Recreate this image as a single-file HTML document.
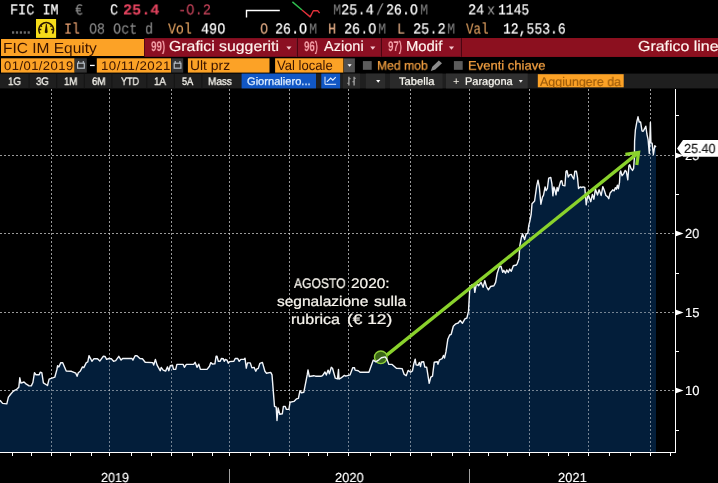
<!DOCTYPE html>
<html><head><meta charset="utf-8"><title>FIC IM Equity</title>
<style>
*{box-sizing:border-box}
html,body{margin:0;padding:0;background:#000}
body{width:718px;height:483px;overflow:hidden;position:relative;font-family:"Liberation Sans",sans-serif}
.a{position:absolute;white-space:nowrap;line-height:1;transform-origin:0 0;will-change:transform;text-rendering:geometricPrecision}
.m{font-family:"Liberation Mono",monospace}
.s{font-family:"Liberation Sans",sans-serif}
.bx{position:absolute}
</style></head>
<body>
<svg width="718" height="483" viewBox="0 0 718 483" style="position:absolute;left:0;top:0">
<defs><clipPath id="cf"><path d="M0.0,400.3 L2.6,403.4 L6.8,403.9 L8.4,397.2 L10.4,394.5 L13.1,391.4 L14.6,390.4 L16.7,389.3 L18.8,387.2 L19.8,377.8 L20.9,383.1 L24.0,382.0 L25.6,383.6 L28.7,385.7 L31.3,385.9 L32.9,382.5 L34.5,372.6 L36.0,374.8 L39.2,374.8 L40.2,372.3 L41.8,372.6 L43.4,382.8 L47.5,385.5 L49.1,379.2 L54.8,377.2 L56.9,369.5 L57.6,365.7 L58.9,366.9 L60.8,362.6 L62.7,362.8 L66.2,371.1 L71.4,371.3 L75.8,373.2 L77.1,376.3 L78.3,372.8 L80.2,371.3 L82.5,366.9 L83.8,367.6 L86.3,362.6 L87.8,361.9 L89.0,355.7 L90.7,358.8 L91.9,361.3 L93.8,358.8 L97.5,358.8 L99.8,361.1 L103.2,356.3 L105.1,356.5 L106.6,359.4 L108.8,358.5 L111.3,358.8 L113.6,361.3 L115.7,360.7 L118.8,356.3 L121.1,360.1 L122.6,358.5 L132.0,358.5 L132.9,360.1 L135.1,355.7 L137.0,355.7 L139.9,358.5 L142.4,358.8 L145.2,362.3 L152.7,362.6 L153.7,365.1 L155.4,359.4 L157.1,365.1 L160.2,370.7 L161.2,367.4 L163.2,370.1 L165.6,371.1 L167.5,366.9 L168.8,370.7 L170.3,365.7 L172.5,365.1 L173.5,369.4 L175.7,369.4 L176.9,364.4 L183.2,364.4 L184.4,367.3 L186.3,364.4 L193.8,364.2 L195.1,362.3 L197.0,367.3 L198.8,364.2 L200.4,369.4 L207.0,369.4 L209.5,366.3 L210.8,362.6 L212.6,364.1 L214.9,363.8 L216.1,356.3 L217.0,356.3 L218.3,361.3 L220.2,361.3 L221.4,358.5 L223.3,358.8 L224.2,361.3 L225.4,359.4 L227.0,360.1 L228.3,363.2 L229.5,361.6 L233.9,361.3 L235.2,358.5 L237.7,358.5 L239.2,361.3 L240.8,359.4 L244.0,359.4 L245.0,358.3 L246.3,368.2 L247.5,362.9 L250.3,362.9 L251.9,367.9 L254.1,367.4 L255.8,371.2 L257.1,368.6 L258.2,368.6 L259.9,363.3 L262.4,362.4 L264.9,371.2 L266.5,373.2 L270.7,372.4 L272.0,374.9 L274.5,406.4 L276.2,407.2 L277.0,420.5 L278.1,408.0 L279.8,414.3 L282.3,413.8 L283.4,406.4 L285.1,406.4 L286.4,409.4 L288.9,409.4 L290.1,402.2 L293.9,401.4 L296.4,398.9 L298.4,398.4 L300.0,390.6 L301.4,392.8 L303.8,392.3 L307.2,374.9 L308.0,369.9 L309.3,376.5 L313.8,375.7 L315.5,376.2 L321.3,376.2 L322.5,375.7 L325.0,372.0 L326.3,375.1 L328.1,370.1 L329.4,373.8 L331.3,367.3 L332.5,368.2 L335.3,378.2 L337.5,378.9 L338.5,369.5 L339.0,379.1 L340.7,378.2 L344.4,375.4 L345.7,376.1 L350.1,374.8 L352.8,367.6 L354.5,367.8 L355.1,370.1 L358.2,370.7 L360.1,372.3 L368.9,372.3 L373.3,360.1 L375.8,361.9 L378.9,359.8 L381.4,357.8 L385.2,356.9 L387.0,359.4 L388.9,364.4 L392.1,364.4 L396.4,368.2 L402.1,368.6 L404.0,374.1 L406.2,375.7 L408.1,370.4 L410.6,372.2 L412.4,371.0 L413.9,363.5 L415.2,359.2 L416.1,364.8 L418.0,365.4 L419.3,362.5 L420.5,366.6 L421.4,362.0 L423.6,361.7 L424.8,367.0 L426.7,367.3 L429.2,383.4 L430.8,377.2 L432.5,376.2 L434.2,362.3 L437.3,361.7 L437.9,364.2 L439.5,359.8 L442.2,358.6 L443.5,355.5 L444.5,358.0 L446.0,351.7 L447.8,339.3 L449.7,335.0 L451.2,334.3 L453.3,326.3 L455.8,323.8 L458.2,323.0 L460.2,320.5 L462.4,323.3 L464.9,318.8 L466.9,318.0 L468.5,311.4 L469.9,286.5 L472.3,284.5 L474.0,285.7 L474.8,292.3 L476.5,283.2 L478.5,285.7 L481.1,282.4 L483.1,287.3 L484.8,280.7 L486.4,286.5 L488.4,289.8 L490.6,286.5 L493.9,285.7 L495.6,282.4 L497.2,273.2 L499.4,266.6 L501.0,266.3 L502.7,272.4 L503.8,270.3 L505.5,273.2 L506.7,269.9 L508.3,272.4 L509.7,269.1 L511.3,271.3 L513.3,265.8 L516.3,265.0 L517.3,263.6 L518.9,258.9 L519.9,245.3 L521.3,238.0 L522.5,233.8 L524.6,239.5 L526.2,233.8 L527.8,233.3 L528.8,225.4 L529.8,221.3 L531.2,214.0 L532.0,203.7 L534.6,201.0 L536.7,185.9 L538.0,180.1 L539.3,186.9 L540.9,204.2 L542.5,196.9 L543.5,195.3 L545.1,186.9 L546.1,190.6 L547.4,188.5 L548.7,178.1 L550.8,177.5 L551.9,183.8 L552.9,195.8 L553.9,186.9 L555.0,190.1 L556.0,194.8 L557.1,187.5 L558.1,191.1 L559.2,186.4 L560.7,181.2 L561.8,180.7 L562.8,185.4 L564.9,185.9 L566.0,171.3 L567.0,170.7 L568.3,177.0 L569.6,174.9 L571.2,174.4 L572.8,177.5 L573.8,179.1 L574.8,171.3 L576.4,171.3 L577.5,177.5 L578.5,188.5 L580.1,186.9 L581.6,187.5 L583.2,186.9 L584.8,187.5 L586.2,204.8 L587.5,197.0 L588.6,195.5 L590.8,201.7 L592.4,194.4 L593.9,199.2 L595.4,189.2 L597.5,195.0 L599.1,189.8 L601.2,195.5 L602.8,186.6 L604.3,190.3 L605.9,195.5 L607.5,196.6 L608.8,198.7 L610.1,192.9 L611.6,191.3 L612.7,189.8 L614.2,190.8 L615.3,187.7 L616.3,189.2 L617.4,185.1 L618.4,188.7 L619.5,182.5 L620.0,172.5 L620.7,171.0 L622.1,175.7 L623.7,173.6 L625.2,170.4 L626.3,171.5 L627.8,179.8 L628.9,165.7 L629.7,164.7 L631.0,168.4 L632.5,170.4 L633.6,168.4 L634.4,157.6 L634.6,141.3 L635.4,129.8 L636.9,121.5 L638.0,116.8 L639.2,122.0 L640.6,122.0 L642.0,130.9 L643.0,131.4 L643.7,130.4 L645.8,126.2 L646.9,134.0 L648.1,139.6 L649.3,153.5 L650.4,122.5 L650.9,142.8 L652.1,143.2 L653.4,154.4 L654.8,145.6 L656.0,147.2 L656.0,452 L0,452 Z"/></clipPath></defs>
<g stroke="#ffffff" stroke-width="1" stroke-dasharray="2 2" shape-rendering="crispEdges" stroke-opacity="0.6"><line x1="51.5" y1="89" x2="51.5" y2="452"/><line x1="109.5" y1="89" x2="109.5" y2="452"/><line x1="171.5" y1="89" x2="171.5" y2="452"/><line x1="229.5" y1="89" x2="229.5" y2="452"/><line x1="289.5" y1="89" x2="289.5" y2="452"/><line x1="348.5" y1="89" x2="348.5" y2="452"/><line x1="410.5" y1="89" x2="410.5" y2="452"/><line x1="469.5" y1="89" x2="469.5" y2="452"/><line x1="529.5" y1="89" x2="529.5" y2="452"/><line x1="588.5" y1="89" x2="588.5" y2="452"/><line x1="650.5" y1="89" x2="650.5" y2="452"/><line x1="0" y1="155.5" x2="675" y2="155.5"/><line x1="0" y1="233.5" x2="675" y2="233.5"/><line x1="0" y1="312.5" x2="675" y2="312.5"/><line x1="0" y1="390.5" x2="675" y2="390.5"/></g>
<path d="M0.0,400.3 L2.6,403.4 L6.8,403.9 L8.4,397.2 L10.4,394.5 L13.1,391.4 L14.6,390.4 L16.7,389.3 L18.8,387.2 L19.8,377.8 L20.9,383.1 L24.0,382.0 L25.6,383.6 L28.7,385.7 L31.3,385.9 L32.9,382.5 L34.5,372.6 L36.0,374.8 L39.2,374.8 L40.2,372.3 L41.8,372.6 L43.4,382.8 L47.5,385.5 L49.1,379.2 L54.8,377.2 L56.9,369.5 L57.6,365.7 L58.9,366.9 L60.8,362.6 L62.7,362.8 L66.2,371.1 L71.4,371.3 L75.8,373.2 L77.1,376.3 L78.3,372.8 L80.2,371.3 L82.5,366.9 L83.8,367.6 L86.3,362.6 L87.8,361.9 L89.0,355.7 L90.7,358.8 L91.9,361.3 L93.8,358.8 L97.5,358.8 L99.8,361.1 L103.2,356.3 L105.1,356.5 L106.6,359.4 L108.8,358.5 L111.3,358.8 L113.6,361.3 L115.7,360.7 L118.8,356.3 L121.1,360.1 L122.6,358.5 L132.0,358.5 L132.9,360.1 L135.1,355.7 L137.0,355.7 L139.9,358.5 L142.4,358.8 L145.2,362.3 L152.7,362.6 L153.7,365.1 L155.4,359.4 L157.1,365.1 L160.2,370.7 L161.2,367.4 L163.2,370.1 L165.6,371.1 L167.5,366.9 L168.8,370.7 L170.3,365.7 L172.5,365.1 L173.5,369.4 L175.7,369.4 L176.9,364.4 L183.2,364.4 L184.4,367.3 L186.3,364.4 L193.8,364.2 L195.1,362.3 L197.0,367.3 L198.8,364.2 L200.4,369.4 L207.0,369.4 L209.5,366.3 L210.8,362.6 L212.6,364.1 L214.9,363.8 L216.1,356.3 L217.0,356.3 L218.3,361.3 L220.2,361.3 L221.4,358.5 L223.3,358.8 L224.2,361.3 L225.4,359.4 L227.0,360.1 L228.3,363.2 L229.5,361.6 L233.9,361.3 L235.2,358.5 L237.7,358.5 L239.2,361.3 L240.8,359.4 L244.0,359.4 L245.0,358.3 L246.3,368.2 L247.5,362.9 L250.3,362.9 L251.9,367.9 L254.1,367.4 L255.8,371.2 L257.1,368.6 L258.2,368.6 L259.9,363.3 L262.4,362.4 L264.9,371.2 L266.5,373.2 L270.7,372.4 L272.0,374.9 L274.5,406.4 L276.2,407.2 L277.0,420.5 L278.1,408.0 L279.8,414.3 L282.3,413.8 L283.4,406.4 L285.1,406.4 L286.4,409.4 L288.9,409.4 L290.1,402.2 L293.9,401.4 L296.4,398.9 L298.4,398.4 L300.0,390.6 L301.4,392.8 L303.8,392.3 L307.2,374.9 L308.0,369.9 L309.3,376.5 L313.8,375.7 L315.5,376.2 L321.3,376.2 L322.5,375.7 L325.0,372.0 L326.3,375.1 L328.1,370.1 L329.4,373.8 L331.3,367.3 L332.5,368.2 L335.3,378.2 L337.5,378.9 L338.5,369.5 L339.0,379.1 L340.7,378.2 L344.4,375.4 L345.7,376.1 L350.1,374.8 L352.8,367.6 L354.5,367.8 L355.1,370.1 L358.2,370.7 L360.1,372.3 L368.9,372.3 L373.3,360.1 L375.8,361.9 L378.9,359.8 L381.4,357.8 L385.2,356.9 L387.0,359.4 L388.9,364.4 L392.1,364.4 L396.4,368.2 L402.1,368.6 L404.0,374.1 L406.2,375.7 L408.1,370.4 L410.6,372.2 L412.4,371.0 L413.9,363.5 L415.2,359.2 L416.1,364.8 L418.0,365.4 L419.3,362.5 L420.5,366.6 L421.4,362.0 L423.6,361.7 L424.8,367.0 L426.7,367.3 L429.2,383.4 L430.8,377.2 L432.5,376.2 L434.2,362.3 L437.3,361.7 L437.9,364.2 L439.5,359.8 L442.2,358.6 L443.5,355.5 L444.5,358.0 L446.0,351.7 L447.8,339.3 L449.7,335.0 L451.2,334.3 L453.3,326.3 L455.8,323.8 L458.2,323.0 L460.2,320.5 L462.4,323.3 L464.9,318.8 L466.9,318.0 L468.5,311.4 L469.9,286.5 L472.3,284.5 L474.0,285.7 L474.8,292.3 L476.5,283.2 L478.5,285.7 L481.1,282.4 L483.1,287.3 L484.8,280.7 L486.4,286.5 L488.4,289.8 L490.6,286.5 L493.9,285.7 L495.6,282.4 L497.2,273.2 L499.4,266.6 L501.0,266.3 L502.7,272.4 L503.8,270.3 L505.5,273.2 L506.7,269.9 L508.3,272.4 L509.7,269.1 L511.3,271.3 L513.3,265.8 L516.3,265.0 L517.3,263.6 L518.9,258.9 L519.9,245.3 L521.3,238.0 L522.5,233.8 L524.6,239.5 L526.2,233.8 L527.8,233.3 L528.8,225.4 L529.8,221.3 L531.2,214.0 L532.0,203.7 L534.6,201.0 L536.7,185.9 L538.0,180.1 L539.3,186.9 L540.9,204.2 L542.5,196.9 L543.5,195.3 L545.1,186.9 L546.1,190.6 L547.4,188.5 L548.7,178.1 L550.8,177.5 L551.9,183.8 L552.9,195.8 L553.9,186.9 L555.0,190.1 L556.0,194.8 L557.1,187.5 L558.1,191.1 L559.2,186.4 L560.7,181.2 L561.8,180.7 L562.8,185.4 L564.9,185.9 L566.0,171.3 L567.0,170.7 L568.3,177.0 L569.6,174.9 L571.2,174.4 L572.8,177.5 L573.8,179.1 L574.8,171.3 L576.4,171.3 L577.5,177.5 L578.5,188.5 L580.1,186.9 L581.6,187.5 L583.2,186.9 L584.8,187.5 L586.2,204.8 L587.5,197.0 L588.6,195.5 L590.8,201.7 L592.4,194.4 L593.9,199.2 L595.4,189.2 L597.5,195.0 L599.1,189.8 L601.2,195.5 L602.8,186.6 L604.3,190.3 L605.9,195.5 L607.5,196.6 L608.8,198.7 L610.1,192.9 L611.6,191.3 L612.7,189.8 L614.2,190.8 L615.3,187.7 L616.3,189.2 L617.4,185.1 L618.4,188.7 L619.5,182.5 L620.0,172.5 L620.7,171.0 L622.1,175.7 L623.7,173.6 L625.2,170.4 L626.3,171.5 L627.8,179.8 L628.9,165.7 L629.7,164.7 L631.0,168.4 L632.5,170.4 L633.6,168.4 L634.4,157.6 L634.6,141.3 L635.4,129.8 L636.9,121.5 L638.0,116.8 L639.2,122.0 L640.6,122.0 L642.0,130.9 L643.0,131.4 L643.7,130.4 L645.8,126.2 L646.9,134.0 L648.1,139.6 L649.3,153.5 L650.4,122.5 L650.9,142.8 L652.1,143.2 L653.4,154.4 L654.8,145.6 L656.0,147.2 L656.0,452 L0,452 Z" fill="#031e3a"/>
<g stroke="#ffffff" stroke-width="1" stroke-dasharray="2 2" shape-rendering="crispEdges" stroke-opacity="0.45" clip-path="url(#cf)"><line x1="51.5" y1="89" x2="51.5" y2="452"/><line x1="109.5" y1="89" x2="109.5" y2="452"/><line x1="171.5" y1="89" x2="171.5" y2="452"/><line x1="229.5" y1="89" x2="229.5" y2="452"/><line x1="289.5" y1="89" x2="289.5" y2="452"/><line x1="348.5" y1="89" x2="348.5" y2="452"/><line x1="410.5" y1="89" x2="410.5" y2="452"/><line x1="469.5" y1="89" x2="469.5" y2="452"/><line x1="529.5" y1="89" x2="529.5" y2="452"/><line x1="588.5" y1="89" x2="588.5" y2="452"/><line x1="650.5" y1="89" x2="650.5" y2="452"/><line x1="0" y1="155.5" x2="675" y2="155.5"/><line x1="0" y1="233.5" x2="675" y2="233.5"/><line x1="0" y1="312.5" x2="675" y2="312.5"/><line x1="0" y1="390.5" x2="675" y2="390.5"/></g>
<circle cx="380.8" cy="357.3" r="6.3" fill="#41701a" fill-opacity="0.9" stroke="#8fce3a" stroke-width="1.4"/>
<path d="M0.0,400.3 L2.6,403.4 L6.8,403.9 L8.4,397.2 L10.4,394.5 L13.1,391.4 L14.6,390.4 L16.7,389.3 L18.8,387.2 L19.8,377.8 L20.9,383.1 L24.0,382.0 L25.6,383.6 L28.7,385.7 L31.3,385.9 L32.9,382.5 L34.5,372.6 L36.0,374.8 L39.2,374.8 L40.2,372.3 L41.8,372.6 L43.4,382.8 L47.5,385.5 L49.1,379.2 L54.8,377.2 L56.9,369.5 L57.6,365.7 L58.9,366.9 L60.8,362.6 L62.7,362.8 L66.2,371.1 L71.4,371.3 L75.8,373.2 L77.1,376.3 L78.3,372.8 L80.2,371.3 L82.5,366.9 L83.8,367.6 L86.3,362.6 L87.8,361.9 L89.0,355.7 L90.7,358.8 L91.9,361.3 L93.8,358.8 L97.5,358.8 L99.8,361.1 L103.2,356.3 L105.1,356.5 L106.6,359.4 L108.8,358.5 L111.3,358.8 L113.6,361.3 L115.7,360.7 L118.8,356.3 L121.1,360.1 L122.6,358.5 L132.0,358.5 L132.9,360.1 L135.1,355.7 L137.0,355.7 L139.9,358.5 L142.4,358.8 L145.2,362.3 L152.7,362.6 L153.7,365.1 L155.4,359.4 L157.1,365.1 L160.2,370.7 L161.2,367.4 L163.2,370.1 L165.6,371.1 L167.5,366.9 L168.8,370.7 L170.3,365.7 L172.5,365.1 L173.5,369.4 L175.7,369.4 L176.9,364.4 L183.2,364.4 L184.4,367.3 L186.3,364.4 L193.8,364.2 L195.1,362.3 L197.0,367.3 L198.8,364.2 L200.4,369.4 L207.0,369.4 L209.5,366.3 L210.8,362.6 L212.6,364.1 L214.9,363.8 L216.1,356.3 L217.0,356.3 L218.3,361.3 L220.2,361.3 L221.4,358.5 L223.3,358.8 L224.2,361.3 L225.4,359.4 L227.0,360.1 L228.3,363.2 L229.5,361.6 L233.9,361.3 L235.2,358.5 L237.7,358.5 L239.2,361.3 L240.8,359.4 L244.0,359.4 L245.0,358.3 L246.3,368.2 L247.5,362.9 L250.3,362.9 L251.9,367.9 L254.1,367.4 L255.8,371.2 L257.1,368.6 L258.2,368.6 L259.9,363.3 L262.4,362.4 L264.9,371.2 L266.5,373.2 L270.7,372.4 L272.0,374.9 L274.5,406.4 L276.2,407.2 L277.0,420.5 L278.1,408.0 L279.8,414.3 L282.3,413.8 L283.4,406.4 L285.1,406.4 L286.4,409.4 L288.9,409.4 L290.1,402.2 L293.9,401.4 L296.4,398.9 L298.4,398.4 L300.0,390.6 L301.4,392.8 L303.8,392.3 L307.2,374.9 L308.0,369.9 L309.3,376.5 L313.8,375.7 L315.5,376.2 L321.3,376.2 L322.5,375.7 L325.0,372.0 L326.3,375.1 L328.1,370.1 L329.4,373.8 L331.3,367.3 L332.5,368.2 L335.3,378.2 L337.5,378.9 L338.5,369.5 L339.0,379.1 L340.7,378.2 L344.4,375.4 L345.7,376.1 L350.1,374.8 L352.8,367.6 L354.5,367.8 L355.1,370.1 L358.2,370.7 L360.1,372.3 L368.9,372.3 L373.3,360.1 L375.8,361.9 L378.9,359.8 L381.4,357.8 L385.2,356.9 L387.0,359.4 L388.9,364.4 L392.1,364.4 L396.4,368.2 L402.1,368.6 L404.0,374.1 L406.2,375.7 L408.1,370.4 L410.6,372.2 L412.4,371.0 L413.9,363.5 L415.2,359.2 L416.1,364.8 L418.0,365.4 L419.3,362.5 L420.5,366.6 L421.4,362.0 L423.6,361.7 L424.8,367.0 L426.7,367.3 L429.2,383.4 L430.8,377.2 L432.5,376.2 L434.2,362.3 L437.3,361.7 L437.9,364.2 L439.5,359.8 L442.2,358.6 L443.5,355.5 L444.5,358.0 L446.0,351.7 L447.8,339.3 L449.7,335.0 L451.2,334.3 L453.3,326.3 L455.8,323.8 L458.2,323.0 L460.2,320.5 L462.4,323.3 L464.9,318.8 L466.9,318.0 L468.5,311.4 L469.9,286.5 L472.3,284.5 L474.0,285.7 L474.8,292.3 L476.5,283.2 L478.5,285.7 L481.1,282.4 L483.1,287.3 L484.8,280.7 L486.4,286.5 L488.4,289.8 L490.6,286.5 L493.9,285.7 L495.6,282.4 L497.2,273.2 L499.4,266.6 L501.0,266.3 L502.7,272.4 L503.8,270.3 L505.5,273.2 L506.7,269.9 L508.3,272.4 L509.7,269.1 L511.3,271.3 L513.3,265.8 L516.3,265.0 L517.3,263.6 L518.9,258.9 L519.9,245.3 L521.3,238.0 L522.5,233.8 L524.6,239.5 L526.2,233.8 L527.8,233.3 L528.8,225.4 L529.8,221.3 L531.2,214.0 L532.0,203.7 L534.6,201.0 L536.7,185.9 L538.0,180.1 L539.3,186.9 L540.9,204.2 L542.5,196.9 L543.5,195.3 L545.1,186.9 L546.1,190.6 L547.4,188.5 L548.7,178.1 L550.8,177.5 L551.9,183.8 L552.9,195.8 L553.9,186.9 L555.0,190.1 L556.0,194.8 L557.1,187.5 L558.1,191.1 L559.2,186.4 L560.7,181.2 L561.8,180.7 L562.8,185.4 L564.9,185.9 L566.0,171.3 L567.0,170.7 L568.3,177.0 L569.6,174.9 L571.2,174.4 L572.8,177.5 L573.8,179.1 L574.8,171.3 L576.4,171.3 L577.5,177.5 L578.5,188.5 L580.1,186.9 L581.6,187.5 L583.2,186.9 L584.8,187.5 L586.2,204.8 L587.5,197.0 L588.6,195.5 L590.8,201.7 L592.4,194.4 L593.9,199.2 L595.4,189.2 L597.5,195.0 L599.1,189.8 L601.2,195.5 L602.8,186.6 L604.3,190.3 L605.9,195.5 L607.5,196.6 L608.8,198.7 L610.1,192.9 L611.6,191.3 L612.7,189.8 L614.2,190.8 L615.3,187.7 L616.3,189.2 L617.4,185.1 L618.4,188.7 L619.5,182.5 L620.0,172.5 L620.7,171.0 L622.1,175.7 L623.7,173.6 L625.2,170.4 L626.3,171.5 L627.8,179.8 L628.9,165.7 L629.7,164.7 L631.0,168.4 L632.5,170.4 L633.6,168.4 L634.4,157.6 L634.6,141.3 L635.4,129.8 L636.9,121.5 L638.0,116.8 L639.2,122.0 L640.6,122.0 L642.0,130.9 L643.0,131.4 L643.7,130.4 L645.8,126.2 L646.9,134.0 L648.1,139.6 L649.3,153.5 L650.4,122.5 L650.9,142.8 L652.1,143.2 L653.4,154.4 L654.8,145.6 L656.0,147.2" fill="none" stroke="#f2f5f9" stroke-width="1.4" stroke-linejoin="round"/>
<rect x="675" y="89" width="1" height="364" fill="#fff" shape-rendering="crispEdges"/>
<rect x="0" y="452" width="676" height="1" fill="#fff" shape-rendering="crispEdges"/>
<rect x="12" y="453" width="1" height="3" fill="#fff" shape-rendering="crispEdges"/>
<rect x="31" y="453" width="1" height="3" fill="#fff" shape-rendering="crispEdges"/>
<rect x="51" y="453" width="1" height="3" fill="#fff" shape-rendering="crispEdges"/>
<rect x="70" y="453" width="1" height="3" fill="#fff" shape-rendering="crispEdges"/>
<rect x="91" y="453" width="1" height="3" fill="#fff" shape-rendering="crispEdges"/>
<rect x="109" y="453" width="1" height="3" fill="#fff" shape-rendering="crispEdges"/>
<rect x="131" y="453" width="1" height="3" fill="#fff" shape-rendering="crispEdges"/>
<rect x="151" y="453" width="1" height="3" fill="#fff" shape-rendering="crispEdges"/>
<rect x="171" y="453" width="1" height="3" fill="#fff" shape-rendering="crispEdges"/>
<rect x="192" y="453" width="1" height="3" fill="#fff" shape-rendering="crispEdges"/>
<rect x="212" y="453" width="1" height="3" fill="#fff" shape-rendering="crispEdges"/>
<rect x="229" y="453" width="1" height="3" fill="#fff" shape-rendering="crispEdges"/>
<rect x="250" y="453" width="1" height="3" fill="#fff" shape-rendering="crispEdges"/>
<rect x="269" y="453" width="1" height="3" fill="#fff" shape-rendering="crispEdges"/>
<rect x="289" y="453" width="1" height="3" fill="#fff" shape-rendering="crispEdges"/>
<rect x="308" y="453" width="1" height="3" fill="#fff" shape-rendering="crispEdges"/>
<rect x="327" y="453" width="1" height="3" fill="#fff" shape-rendering="crispEdges"/>
<rect x="348" y="453" width="1" height="3" fill="#fff" shape-rendering="crispEdges"/>
<rect x="370" y="453" width="1" height="3" fill="#fff" shape-rendering="crispEdges"/>
<rect x="390" y="453" width="1" height="3" fill="#fff" shape-rendering="crispEdges"/>
<rect x="410" y="453" width="1" height="3" fill="#fff" shape-rendering="crispEdges"/>
<rect x="431" y="453" width="1" height="3" fill="#fff" shape-rendering="crispEdges"/>
<rect x="452" y="453" width="1" height="3" fill="#fff" shape-rendering="crispEdges"/>
<rect x="469" y="453" width="1" height="3" fill="#fff" shape-rendering="crispEdges"/>
<rect x="488" y="453" width="1" height="3" fill="#fff" shape-rendering="crispEdges"/>
<rect x="507" y="453" width="1" height="3" fill="#fff" shape-rendering="crispEdges"/>
<rect x="529" y="453" width="1" height="3" fill="#fff" shape-rendering="crispEdges"/>
<rect x="548" y="453" width="1" height="3" fill="#fff" shape-rendering="crispEdges"/>
<rect x="568" y="453" width="1" height="3" fill="#fff" shape-rendering="crispEdges"/>
<rect x="588" y="453" width="1" height="3" fill="#fff" shape-rendering="crispEdges"/>
<rect x="609" y="453" width="1" height="3" fill="#fff" shape-rendering="crispEdges"/>
<rect x="630" y="453" width="1" height="3" fill="#fff" shape-rendering="crispEdges"/>
<rect x="650" y="453" width="1" height="3" fill="#fff" shape-rendering="crispEdges"/>
<rect x="670" y="453" width="1" height="3" fill="#fff" shape-rendering="crispEdges"/>
<rect x="676" y="115" width="3" height="1" fill="#fff" shape-rendering="crispEdges"/>
<rect x="676" y="194" width="3" height="1" fill="#fff" shape-rendering="crispEdges"/>
<rect x="676" y="273" width="3" height="1" fill="#fff" shape-rendering="crispEdges"/>
<rect x="676" y="351" width="3" height="1" fill="#fff" shape-rendering="crispEdges"/>
<rect x="676" y="430" width="3" height="1" fill="#fff" shape-rendering="crispEdges"/>
<path d="M676,152.8 L683.5,155.5 L676,158.2 Z" fill="#fff"/>
<path d="M676,230.8 L683.5,233.5 L676,236.2 Z" fill="#fff"/>
<path d="M676,309.8 L683.5,312.5 L676,315.2 Z" fill="#fff"/>
<path d="M676,387.8 L683.5,390.5 L676,393.2 Z" fill="#fff"/>
<rect x="229" y="469" width="1" height="14" fill="#a0a0a0" shape-rendering="crispEdges"/>
<rect x="469" y="469" width="1" height="14" fill="#a0a0a0" shape-rendering="crispEdges"/>
<line x1="387.0" y1="354.9" x2="637.8" y2="153.1" stroke="#8ad22c" stroke-width="3.3"/>
<path d="M625.4,154.4 L638.6,152.5 L636.8,164.9" fill="none" stroke="#8ad22c" stroke-width="3.2" stroke-linejoin="miter"/>
</svg>
<svg width="718" height="100" viewBox="0 0 718 100" style="position:absolute;left:0;top:0"><rect x="144.4" y="38.1" width="573.6" height="18.7" fill="#8b0f22"/>
<rect x="462" y="38.1" width="256" height="18.7" fill="#8c101f"/>
<rect x="1" y="39" width="143" height="17" fill="#fca226"/>
<rect x="296" y="38.1" width="1" height="18.7" fill="#7a1626"/>
<rect x="297" y="38.1" width="1" height="18.7" fill="#4c0410"/>
<rect x="380" y="38.1" width="1" height="18.7" fill="#7a1626"/>
<rect x="381" y="38.1" width="1" height="18.7" fill="#4c0410"/>
<rect x="460" y="38.1" width="1" height="18.7" fill="#7a1626"/>
<rect x="461" y="38.1" width="1" height="18.7" fill="#4c0410"/>
<rect x="1" y="58.3" width="73.6" height="14.3" fill="#fca226"/>
<rect x="74.6" y="58.3" width="12.2" height="14.3" fill="#353535"/>
<rect x="96.8" y="58.3" width="74.2" height="14.3" fill="#fca226"/>
<rect x="171.3" y="58.3" width="11.9" height="14.3" fill="#353535"/>
<rect x="187.9" y="58.3" width="81.6" height="14.3" fill="#fca226"/>
<rect x="275.1" y="58.3" width="68.3" height="14.3" fill="#fca226"/>
<rect x="343.9" y="58.4" width="11" height="14" fill="#505050"/>
<rect x="362.9" y="61.1" width="8.8" height="8.7" fill="#5c5c5c"/>
<rect x="453.9" y="61.1" width="8.8" height="8.7" fill="#5c5c5c"/>
<rect x="0" y="73.6" width="718" height="14.8" fill="#1f1f1f"/>
<rect x="28.6" y="73.6" width="1" height="14.8" fill="#151515"/>
<rect x="56.2" y="73.6" width="1" height="14.8" fill="#151515"/>
<rect x="83.8" y="73.6" width="1" height="14.8" fill="#151515"/>
<rect x="111.4" y="73.6" width="1" height="14.8" fill="#151515"/>
<rect x="146.3" y="73.6" width="1" height="14.8" fill="#151515"/>
<rect x="173.8" y="73.6" width="1" height="14.8" fill="#151515"/>
<rect x="201.4" y="73.6" width="1" height="14.8" fill="#151515"/>
<rect x="241.6" y="73.6" width="74.4" height="14.8" fill="#1157c5"/>
<rect x="321.3" y="73.6" width="18.8" height="14.8" fill="#1157c5"/>
<rect x="343" y="73.6" width="17" height="14.8" fill="#2a2a2a"/>
<rect x="365.8" y="73.6" width="19.4" height="14.8" fill="#2c2c2c"/>
<rect x="390" y="73.6" width="52.5" height="14.8" fill="#2a2a2a"/>
<rect x="446" y="73.6" width="81.7" height="14.8" fill="#303030"/>
<rect x="537.8" y="74.2" width="85.9" height="13.1" fill="#fca226"/></svg>
<div class="a m" style="left:10.45px;top:3.21px;font-size:16px;color:#ffffff;transform:scale(0.8432,0.9545);-webkit-text-stroke:0.2px #ffffff;">FIC IM</div>
<div class="a m" style="left:74.69px;top:3.21px;font-size:16px;color:#8c8c8c;transform:scale(0.835,0.9545);-webkit-text-stroke:0.1px #8c8c8c;">€</div>
<div class="a m" style="left:109.58px;top:3.21px;font-size:16px;color:#ffffff;transform:scale(0.835,0.9545);-webkit-text-stroke:0.2px #ffffff;">C</div>
<div class="a m" style="left:122.89px;top:3.21px;font-size:16px;color:#e4445f;transform:scale(0.9503,0.9545);font-weight:bold;-webkit-text-stroke:0.1px #e4445f;">25.4</div>
<div class="a m" style="left:177.65px;top:3.21px;font-size:16px;color:#c9455c;transform:scale(0.86,0.9545);-webkit-text-stroke:0.1px #c9455c;">-O.2</div>
<div class="a m" style="left:333.08px;top:3.21px;font-size:16px;color:#7a7a7a;transform:scale(0.835,0.9545);-webkit-text-stroke:0.1px #7a7a7a;">M</div>
<div class="a m" style="left:341.05px;top:3.21px;font-size:16px;color:#ffffff;transform:scale(0.8544,0.9545);-webkit-text-stroke:0.2px #ffffff;">25.4</div>
<div class="a m" style="left:376.48px;top:3.21px;font-size:16px;color:#9a9a9a;transform:scale(0.835,0.9545);-webkit-text-stroke:0.1px #9a9a9a;">/</div>
<div class="a m" style="left:385.57px;top:3.21px;font-size:16px;color:#ffffff;transform:scale(0.8299,0.9545);-webkit-text-stroke:0.2px #ffffff;">26.O</div>
<div class="a m" style="left:420.08px;top:3.21px;font-size:16px;color:#7a7a7a;transform:scale(0.835,0.9545);-webkit-text-stroke:0.1px #7a7a7a;">M</div>
<div class="a m" style="left:468.05px;top:3.21px;font-size:16px;color:#ffffff;transform:scale(0.8457,0.9545);-webkit-text-stroke:0.2px #ffffff;">24</div>
<div class="a m" style="left:486.68px;top:3.21px;font-size:16px;color:#9a9a9a;transform:scale(0.835,0.9545);-webkit-text-stroke:0.1px #9a9a9a;">x</div>
<div class="a m" style="left:497.69px;top:3.21px;font-size:16px;color:#ffffff;transform:scale(0.8137,0.9545);-webkit-text-stroke:0.2px #ffffff;">1145</div>
<div class="a m" style="left:63.66px;top:22.0px;font-size:16px;color:#e8a070;transform:scale(0.8294,0.9636);-webkit-text-stroke:0.1px #e8a070;">Il</div>
<div class="a m" style="left:89.17px;top:22.0px;font-size:16px;color:#8c8c8c;transform:scale(0.838,0.9636);-webkit-text-stroke:0.1px #8c8c8c;">O8 Oct</div>
<div class="a m" style="left:145.09px;top:22.0px;font-size:16px;color:#8c8c8c;transform:scale(0.835,0.9636);-webkit-text-stroke:0.1px #8c8c8c;">d</div>
<div class="a m" style="left:168.1px;top:22.0px;font-size:16px;color:#e0a060;transform:scale(0.8286,0.9636);-webkit-text-stroke:0.1px #e0a060;">Vol</div>
<div class="a m" style="left:201.37px;top:22.0px;font-size:16px;color:#ffffff;transform:scale(0.8436,0.9636);-webkit-text-stroke:0.2px #ffffff;">49O</div>
<div class="a m" style="left:260.23px;top:22.0px;font-size:16px;color:#e8b088;transform:scale(0.835,0.9636);-webkit-text-stroke:0.1px #e8b088;">O</div>
<div class="a m" style="left:274.86px;top:22.0px;font-size:16px;color:#ffffff;transform:scale(0.8354,0.9636);-webkit-text-stroke:0.2px #ffffff;">26.O</div>
<div class="a m" style="left:308.98px;top:22.0px;font-size:16px;color:#7a7a7a;transform:scale(0.835,0.9636);-webkit-text-stroke:0.1px #7a7a7a;">M</div>
<div class="a m" style="left:327.83px;top:22.0px;font-size:16px;color:#e8b088;transform:scale(0.835,0.9636);-webkit-text-stroke:0.1px #e8b088;">H</div>
<div class="a m" style="left:343.96px;top:22.0px;font-size:16px;color:#ffffff;transform:scale(0.8435,0.9636);-webkit-text-stroke:0.2px #ffffff;">26.O</div>
<div class="a m" style="left:378.18px;top:22.0px;font-size:16px;color:#7a7a7a;transform:scale(0.835,0.9636);-webkit-text-stroke:0.1px #7a7a7a;">M</div>
<div class="a m" style="left:396.77px;top:22.0px;font-size:16px;color:#e8b088;transform:scale(0.835,0.9636);-webkit-text-stroke:0.1px #e8b088;">L</div>
<div class="a m" style="left:413.15px;top:22.0px;font-size:16px;color:#ffffff;transform:scale(0.8521,0.9636);-webkit-text-stroke:0.2px #ffffff;">25.2</div>
<div class="a m" style="left:446.93px;top:22.0px;font-size:16px;color:#7a7a7a;transform:scale(0.835,0.9636);-webkit-text-stroke:0.1px #7a7a7a;">M</div>
<div class="a m" style="left:466.4px;top:22.0px;font-size:16px;color:#e0a060;transform:scale(0.7857,0.9636);-webkit-text-stroke:0.1px #e0a060;">Val</div>
<div class="a m" style="left:502.98px;top:22.0px;font-size:16px;color:#ffffff;transform:scale(0.816,0.9636);-webkit-text-stroke:0.2px #ffffff;">12,553.6</div>
<div class="a s" style="left:2.99px;top:39.95px;font-size:14px;color:#3a1400;transform:scale(1.1069,1.0462);">FIC IM Equity</div>
<div class="a s" style="left:150.65px;top:39.33px;font-size:14px;color:#f4a0a8;transform:scale(0.7053,1.01);font-weight:bold;">99)</div>
<div class="a s" style="left:169.33px;top:39.08px;font-size:14px;color:#fff3ee;transform:scale(1.1302,1.03);-webkit-text-stroke:0.18px #fff3ee;">Grafici suggeriti</div>
<div class="a s" style="left:304.05px;top:39.33px;font-size:14px;color:#f4a0a8;transform:scale(0.6947,1.01);font-weight:bold;">96)</div>
<div class="a s" style="left:323.5px;top:39.08px;font-size:14px;color:#fff3ee;transform:scale(1.0389,1.03);-webkit-text-stroke:0.18px #fff3ee;">Azioni</div>
<div class="a s" style="left:388.05px;top:39.33px;font-size:14px;color:#f4a0a8;transform:scale(0.6947,1.01);font-weight:bold;">97)</div>
<div class="a s" style="left:406.14px;top:39.08px;font-size:14px;color:#fff3ee;transform:scale(1.0597,1.03);-webkit-text-stroke:0.18px #fff3ee;">Modif</div>
<div class="a s" style="left:638.43px;top:39.08px;font-size:14px;color:#fff3ee;transform:scale(1.1369,1.03);-webkit-text-stroke:0.18px #fff3ee;">Grafico line</div>
<div class="a s" style="left:4.48px;top:59.76px;font-size:12.5px;color:#3a1400;transform:scale(1.0462,0.9889);letter-spacing:0.4px;">01/01/2019</div>
<div class="a s" style="left:101.14px;top:59.76px;font-size:12.5px;color:#3a1400;transform:scale(1.0635,0.9889);letter-spacing:0.4px;">10/11/2021</div>
<div class="a s" style="left:189.73px;top:58.39px;font-size:13px;color:#3a1400;transform:scale(1.0667,1.0556);">Ult prz</div>
<div class="a s" style="left:277.4px;top:58.39px;font-size:13px;color:#3a1400;transform:scale(1.0073,1.0556);">Val locale</div>
<div class="a s" style="left:377.3px;top:59.11px;font-size:13px;color:#f3a042;transform:scale(0.9358,0.9684);-webkit-text-stroke:0.25px #f3a042;">Med mob</div>
<div class="a s" style="left:468.15px;top:59.11px;font-size:13px;color:#f3a042;transform:scale(1.0007,0.9684);-webkit-text-stroke:0.25px #f3a042;">Eventi chiave</div>
<div class="a s" style="left:8.35px;top:76.85px;font-size:11px;color:#fbf9f2;transform:scale(0.8963,0.9875);-webkit-text-stroke:0.3px #fbf9f2;">1G</div>
<div class="a s" style="left:36.18px;top:76.85px;font-size:11px;color:#fbf9f2;transform:scale(0.88,0.9875);-webkit-text-stroke:0.3px #fbf9f2;">3G</div>
<div class="a s" style="left:63.86px;top:76.85px;font-size:11px;color:#fbf9f2;transform:scale(0.8842,0.9875);-webkit-text-stroke:0.3px #fbf9f2;">1M</div>
<div class="a s" style="left:92.18px;top:76.85px;font-size:11px;color:#fbf9f2;transform:scale(0.8897,0.9875);-webkit-text-stroke:0.3px #fbf9f2;">6M</div>
<div class="a s" style="left:120.8px;top:76.85px;font-size:11px;color:#fbf9f2;transform:scale(0.823,0.9875);-webkit-text-stroke:0.3px #fbf9f2;">YTD</div>
<div class="a s" style="left:154.35px;top:76.85px;font-size:11px;color:#fbf9f2;transform:scale(0.8906,0.9875);-webkit-text-stroke:0.3px #fbf9f2;">1A</div>
<div class="a s" style="left:181.79px;top:76.85px;font-size:11px;color:#fbf9f2;transform:scale(0.837,0.9875);-webkit-text-stroke:0.3px #fbf9f2;">5A</div>
<div class="a s" style="left:208.32px;top:76.85px;font-size:11px;color:#fbf9f2;transform:scale(0.9069,0.9875);-webkit-text-stroke:0.3px #fbf9f2;">Mass</div>
<div class="a s" style="left:247.35px;top:76.85px;font-size:11px;color:#e2f0ff;transform:scale(1.0097,0.9875);-webkit-text-stroke:0.25px #e2f0ff;">Giornaliero...</div>
<div class="a s" style="left:398.5px;top:76.85px;font-size:11px;color:#fbf9f2;transform:scale(1.0171,0.9875);-webkit-text-stroke:0.22px #fbf9f2;">Tabella</div>
<div class="a s" style="left:452.9px;top:76.85px;font-size:11px;color:#f4f0e6;transform:scale(1.0,1.0194);">+</div>
<div class="a s" style="left:464.65px;top:76.85px;font-size:11px;color:#fbf9f2;transform:scale(0.9989,0.9875);-webkit-text-stroke:0.22px #fbf9f2;">Paragona</div>
<div class="a s" style="left:540.3px;top:75.66px;font-size:12.5px;color:#9a5a0a;transform:scale(0.9963,0.9889);-webkit-text-stroke:0.15px #9a5a0a;clip-path:inset(-2px -2px 0.73px -2px);">Aggiungere da</div>
<div class="a s" style="left:685.11px;top:227.23px;font-size:13px;color:#ffffff;transform:scale(0.9852,1.0105);-webkit-text-stroke:0.15px #ffffff;">20</div>
<div class="a s" style="left:684.85px;top:305.93px;font-size:13px;color:#ffffff;transform:scale(1.0038,1.0105);-webkit-text-stroke:0.15px #ffffff;">15</div>
<div class="a s" style="left:684.85px;top:384.03px;font-size:13px;color:#ffffff;transform:scale(1.0038,1.0105);-webkit-text-stroke:0.15px #ffffff;">10</div>
<div class="a s" style="left:685.11px;top:149.23px;font-size:13px;color:#ffffff;transform:scale(0.9852,1.0105);-webkit-text-stroke:0.15px #ffffff;">25</div>
<div class="a s" style="left:101.22px;top:471.23px;font-size:13px;color:#ffffff;transform:scale(0.9679,1.0105);-webkit-text-stroke:0.15px #ffffff;">2019</div>
<div class="a s" style="left:334.81px;top:471.23px;font-size:13px;color:#ffffff;transform:scale(0.9893,1.0105);-webkit-text-stroke:0.15px #ffffff;">2020</div>
<div class="a s" style="left:558.1px;top:471.23px;font-size:13px;color:#ffffff;transform:scale(0.9929,1.0105);-webkit-text-stroke:0.15px #ffffff;">2021</div>
<div class="a s" style="left:293.52px;top:277.06px;font-size:13.5px;color:#f8f5ee;transform:scale(0.8978,1.0256);-webkit-text-stroke:0.22px #f8f5ee;">AGOSTO</div>
<div class="a s" style="left:350.93px;top:277.06px;font-size:13.5px;color:#f8f5ee;transform:scale(1.1411,1.0256);-webkit-text-stroke:0.22px #f8f5ee;">2020:</div>
<div class="a s" style="left:276.51px;top:294.85px;font-size:13.5px;color:#f8f5ee;transform:scale(1.1481,1.0359);-webkit-text-stroke:0.22px #f8f5ee;">segnalazione</div>
<div class="a s" style="left:373.61px;top:294.85px;font-size:13.5px;color:#f8f5ee;transform:scale(1.164,1.0359);-webkit-text-stroke:0.22px #f8f5ee;">sulla</div>
<div class="a s" style="left:291.21px;top:312.85px;font-size:13.5px;color:#f8f5ee;transform:scale(1.1877,1.0359);-webkit-text-stroke:0.22px #f8f5ee;">rubrica</div>
<div class="a s" style="left:346.54px;top:312.85px;font-size:13.5px;color:#f8f5ee;transform:scale(1.283,1.0359);-webkit-text-stroke:0.22px #f8f5ee;">(€ 12)</div>
<svg width="718" height="483" viewBox="0 0 718 483" style="position:absolute;left:0;top:0"><path d="M677,148.4 L683,140 L718,140 L718,156.8 L683,156.8 Z" fill="#fff"/></svg>
<div class="a s" style="left:684.21px;top:142.43px;font-size:13px;color:#181818;transform:scale(0.9732,1.0105);-webkit-text-stroke:0.2px #181818;">25.40</div>
<svg width="718" height="100" viewBox="0 0 718 100" style="position:absolute;left:0;top:0">
<g fill="#6e6e6e"><rect x="12" y="31.3" width="2.2" height="2.4"/><rect x="15.9" y="31.3" width="2.2" height="2.4"/><rect x="19.8" y="31.3" width="2.2" height="2.4"/><rect x="23.7" y="31.3" width="2.2" height="2.4"/><rect x="27.6" y="31.3" width="2.2" height="2.4"/></g>
<rect x="36" y="19" width="20.1" height="18.9" fill="#f6dc1a"/>
<path d="M39.88,33.65 A7.3,7.3 0 1 1 52.52,33.65" fill="none" stroke="#2a1800" stroke-width="1.7"/>
<path d="M45.9,24 L46.8,24 L47.7,32.3 Q46.2,34.2 44.7,32.3 Z" fill="#2a1800"/>
<g stroke="#2a1800" stroke-width="1.4"><path d="M38.6,29.5h2.7M51.1,29.5h2.7M40.3,24.9l1.6,1.8M52.1,24.9l-1.6,1.8"/></g>
<path d="M246.5,17.5 L246.5,10.5 L279.8,10.5" fill="none" stroke="#fff" stroke-width="1.4"/>
<path d="M292.4,1.9 L302,10" fill="none" stroke="#2fc050" stroke-width="1.4"/>
<path d="M302,10 L310.2,16.9 L313.3,10.7 L317.7,10.7 L319.6,13.2" fill="none" stroke="#e0303a" stroke-width="1.4" stroke-linejoin="round"/>
<path d="M286.34999999999997,46.45 L291.55,46.45 L288.95,49.75 Z" fill="#f3c6cc"/><path d="M370.2,46.45 L375.40000000000003,46.45 L372.8,49.75 Z" fill="#f3c6cc"/><path d="M448.9,46.45 L454.1,46.45 L451.5,49.75 Z" fill="#f3c6cc"/>
<path d="M347.5,64.15 L351.70000000000005,64.15 L349.6,66.85 Z" fill="#fff"/>
<path d="M376.09999999999997,79.89999999999999 L380.3,79.89999999999999 L378.2,82.7 Z" fill="#fff"/><path d="M518.8,79.95 L522.8,79.95 L520.8,82.64999999999999 Z" fill="#e8e8e8"/>
<g fill="none" stroke="#b4bcc4" stroke-width="1.2"><rect x="77.6" y="63.2" width="6.7" height="5"/><rect x="174.2" y="63.2" width="6.7" height="5"/></g>
<g stroke="#b4bcc4" stroke-width="1.2"><path d="M78.6,61v2.2M83.3,61v2.2M175.2,61v2.2M179.9,61v2.2"/></g>
<rect x="90" y="64.8" width="4.7" height="1.3" fill="#fff"/>
<path d="M430.8,71.1 L432.3,66.8 L438.8,60.6 L442,63.2 L435.3,69.6 Z" fill="#8c8c8c"/>
<path d="M325,76.7 V84.3 H336.1" fill="none" stroke="#e8f0ff" stroke-width="1"/>
<path d="M326.9,81.8 L330.7,78 L332.8,80.1 L335.7,77.1" fill="none" stroke="#e8f0ff" stroke-width="1.2"/>
<g stroke="#a8a8a8" stroke-width="1.3"><path d="M348.9,76.7v8.8M354.1,76.7v8.8"/><path d="M347.3,83.3h1.6M348.9,78.7h1.8M352.4,81.8h1.7M354.1,78.2h1.7" stroke-width="1.1"/></g>
</svg>
</body></html>
